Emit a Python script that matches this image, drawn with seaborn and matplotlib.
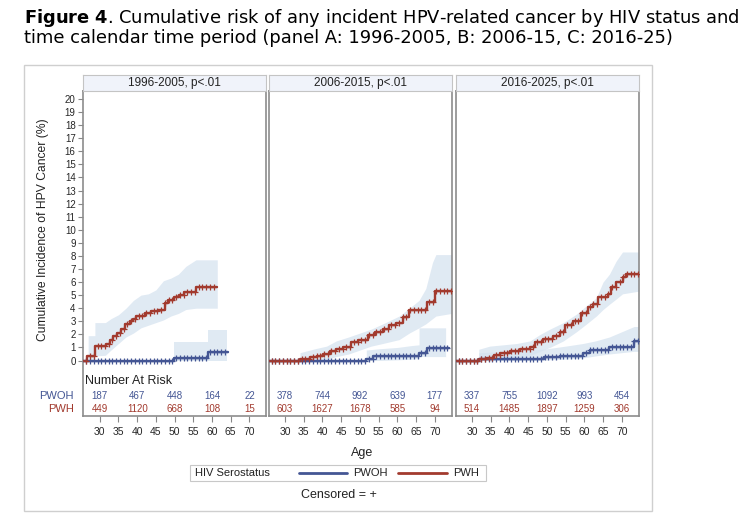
import numpy as np
import pandas as pd
import seaborn as sns
import matplotlib.pyplot as plt
from matplotlib.lines import Line2D
from matplotlib.patches import Rectangle
from matplotlib.transforms import blended_transform_factory

# ---- data ----
periods = ["1996-2005, p<.01", "2006-2015, p<.01", "2016-2025, p<.01"]
groups = ["PWOH", "PWH"]
risk_ages = [30, 40, 50, 60, 70]
x_ticks = [30, 35, 40, 45, 50, 55, 60, 65, 70]

# panel A: 1996-2005
a_pwh_age = [25.6, 26.7, 28.7, 31.6, 32.7, 33.6, 34.5, 35.8, 36.7, 38.0, 38.9, 39.8,
             42.0, 43.7, 45.5, 47.3, 48.1, 49.9, 51.2, 52.6, 55.7, 61.4]
a_pwh_risk = [0.0, 0.33, 1.1, 1.3, 1.6, 1.85, 2.1, 2.4, 2.8, 3.0, 3.2, 3.4,
              3.6, 3.75, 3.9, 4.4, 4.6, 4.83, 5.04, 5.25, 5.6, 5.6]
a_pwoh_age = [25.6, 49.9, 58.8, 64.3]
a_pwoh_risk = [0.0, 0.2, 0.68, 0.68]
a_pwh_band_age = [26.9, 28.7, 28.7, 31.5, 33.0, 35.0, 37.0, 39.0, 41.0, 43.0, 45.0,
                  47.0, 49.0, 51.0, 53.0, 55.7, 61.4]
a_pwh_lo = [0.0, 0.0, 0.35, 0.4, 0.8, 1.3, 1.8, 2.1, 2.5, 2.7, 2.9, 3.1, 3.4, 3.6,
            3.9, 4.0, 4.0]
a_pwh_hi = [1.9, 1.9, 2.9, 2.9, 3.2, 3.5, 4.0, 4.6, 5.0, 5.1, 5.4, 6.1, 6.3, 6.6,
            7.2, 7.7, 7.7]
a_pwoh_band_age = [49.9, 58.8, 58.8, 63.9]
a_pwoh_lo = [0.0, 0.0, 0.0, 0.0]
a_pwoh_hi = [1.4, 1.4, 2.3, 2.3]
a_n_pwoh = [187, 467, 448, 164, 22]
a_n_pwh = [449, 1120, 668, 108, 15]

# panel B: 2006-2015
b_pwh_age = [25.6, 34.0, 36.7, 38.4, 40.2, 42.0, 43.7, 45.5, 47.7, 49.5, 52.1, 53.9,
             56.1, 57.9, 59.7, 61.4, 63.2, 68.0, 70.0, 74.5]
b_pwh_risk = [0.0, 0.1, 0.25, 0.38, 0.5, 0.7, 0.9, 1.07, 1.4, 1.58, 1.98, 2.2,
              2.4, 2.75, 2.9, 3.3, 3.87, 4.5, 5.35, 5.35]
b_pwoh_age = [25.6, 51.7, 53.5, 55.2, 65.8, 68.0, 73.8]
b_pwoh_risk = [0.0, 0.13, 0.33, 0.38, 0.56, 0.97, 0.97]
b_pwh_band_age = [34.0, 38.0, 41.1, 43.7, 47.0, 50.0, 53.0, 56.1, 60.5, 63.2, 65.8,
                  67.6, 69.4, 70.3, 74.5]
b_pwh_lo = [0.0, 0.05, 0.1, 0.3, 0.5, 0.8, 1.1, 1.3, 1.6, 2.1, 2.5, 2.8, 3.2, 3.4, 3.6]
b_pwh_hi = [0.6, 0.9, 1.1, 1.5, 1.8, 2.1, 2.4, 2.8, 3.4, 4.0, 4.6, 5.5, 7.5, 8.1, 8.1]
b_pwoh_band_age = [51.7, 55.2, 60.0, 64.0, 65.8, 65.8, 72.9]
b_pwoh_lo = [0.0, 0.0, 0.05, 0.1, 0.15, 0.3, 0.3]
b_pwoh_hi = [0.8, 0.9, 1.0, 1.15, 1.2, 2.5, 2.5]
b_n_pwoh = [378, 744, 992, 639, 177]
b_n_pwh = [603, 1627, 1678, 585, 94]

# panel C: 2016-2025
c_pwh_age = [25.6, 31.8, 34.0, 35.8, 37.5, 40.2, 42.8, 45.5, 46.8, 49.0, 51.7, 53.4,
             54.8, 57.0, 59.2, 61.0, 62.3, 63.6, 66.3, 67.2, 68.5, 70.2, 71.1, 74.5]
c_pwh_risk = [0.0, 0.1, 0.2, 0.4, 0.6, 0.73, 0.86, 1.0, 1.4, 1.65, 1.9, 2.2,
              2.7, 3.05, 3.6, 4.07, 4.33, 4.83, 5.1, 5.6, 6.0, 6.4, 6.65, 6.65]
c_pwoh_age = [25.6, 31.8, 49.2, 53.4, 59.6, 61.4, 66.7, 73.3, 74.5]
c_pwoh_risk = [0.0, 0.08, 0.25, 0.36, 0.56, 0.8, 1.0, 1.5, 1.5]
c_pwh_band_age = [31.8, 34.7, 41.9, 45.5, 48.2, 50.8, 54.4, 57.9, 60.6, 63.2, 65.0,
                  66.7, 68.5, 70.2, 74.5]
c_pwh_lo = [0.0, 0.15, 0.2, 0.4, 0.7, 1.0, 1.5, 2.2, 2.8, 3.4, 3.9, 4.3, 4.7, 5.1, 5.3]
c_pwh_hi = [0.86, 1.1, 1.3, 1.5, 2.0, 2.4, 2.9, 3.55, 4.2, 4.8, 6.0, 6.6, 7.6, 8.3, 8.3]
c_pwoh_band_age = [31.8, 46.0, 50.0, 55.0, 59.6, 63.0, 66.7, 70.0, 73.3, 74.5]
c_pwoh_lo = [0.0, 0.0, 0.05, 0.1, 0.2, 0.35, 0.5, 0.6, 0.7, 0.7]
c_pwoh_hi = [0.6, 0.8, 0.9, 1.1, 1.3, 1.5, 1.8, 2.2, 2.6, 2.6]
c_n_pwoh = [337, 755, 1092, 993, 454]
c_n_pwh = [514, 1485, 1897, 1259, 306]

# ---- assemble ----
curves = {
    (0, "PWH"): (a_pwh_age, a_pwh_risk), (0, "PWOH"): (a_pwoh_age, a_pwoh_risk),
    (1, "PWH"): (b_pwh_age, b_pwh_risk), (1, "PWOH"): (b_pwoh_age, b_pwoh_risk),
    (2, "PWH"): (c_pwh_age, c_pwh_risk), (2, "PWOH"): (c_pwoh_age, c_pwoh_risk),
}
bands = [
    [(a_pwoh_band_age, a_pwoh_lo, a_pwoh_hi), (a_pwh_band_age, a_pwh_lo, a_pwh_hi)],
    [(b_pwoh_band_age, b_pwoh_lo, b_pwoh_hi), (b_pwh_band_age, b_pwh_lo, b_pwh_hi)],
    [(c_pwoh_band_age, c_pwoh_lo, c_pwoh_hi), (c_pwh_band_age, c_pwh_lo, c_pwh_hi)],
]
at_risk = [(a_n_pwoh, a_n_pwh), (b_n_pwoh, b_n_pwh), (c_n_pwoh, c_n_pwh)]

rows = []
for (p, g), (ages, risk) in curves.items():
    for a, r in zip(ages, risk):
        rows.append({"panel": p, "group": g, "age": a, "risk": r})
df = pd.DataFrame(rows)

palette = {"PWOH": "#445694", "PWH": "#A23A2E"}
band_color = "#d6e3f0"

sns.set_theme(style="white")
plt.rcParams["font.family"] = ["Liberation Sans", "DejaVu Sans"]

W, H = 747, 531
fig = plt.figure(figsize=(W / 100, H / 100), dpi=100)


def fx(x):
    return x / W


def fy(y):
    return 1 - y / H


panel_left = [83.3, 268.6, 455.6]
panel_w = 183.0
top, bottom = 91.0, 415.7
head_top = 74.7
ymin, ymax = -4.22, 20.61
xmin, xmax = 25.6, 74.5

for i, left in enumerate(panel_left):
    ax = fig.add_axes([fx(left), fy(bottom), panel_w / W, (bottom - top) / H])

    for ages, lo, hi in bands[i]:
        ax.fill_between(ages, lo, hi, color=band_color, alpha=0.75, lw=0, zorder=1)

    sub = df[df["panel"] == i]
    sns.lineplot(data=sub, x="age", y="risk", hue="group", hue_order=groups,
                 palette=palette, estimator=None, drawstyle="steps-post",
                 lw=1.7, legend=False, ax=ax, zorder=3)

    # censor marks along each curve
    for g in groups:
        ages, risk = curves[(i, g)]
        cx = np.arange(ages[0] + 0.8, ages[-1], 1.0)
        idx = np.searchsorted(ages, cx, side="right") - 1
        cy = np.asarray(risk)[idx]
        ax.plot(cx, cy, "+", ms=4.5, mew=0.9, color=palette[g], zorder=4)

    # number at risk
    trans = blended_transform_factory(ax.transData, ax.transAxes)
    n_pwoh, n_pwh = at_risk[i]
    for a, n1, n2 in zip(risk_ages, n_pwoh, n_pwh):
        ax.text(a, 0.0607, str(n1), transform=trans, ha="center", va="center",
                fontsize=7, color=palette["PWOH"])
        ax.text(a, 0.0197, str(n2), transform=trans, ha="center", va="center",
                fontsize=7, color=palette["PWH"])

    ax.set_xlim(xmin, xmax)
    ax.set_ylim(ymin, ymax)
    ax.set_xticks(x_ticks)
    ax.set_xticklabels([str(t) for t in x_ticks])
    ax.set_xlabel("")
    ax.set_ylabel("")
    ax.tick_params(axis="x", bottom=True, direction="out", length=4, width=0.8,
                   color="#888888", labelsize=7.5, pad=4)
    if i == 0:
        ax.set_yticks(range(0, 21))
        ax.tick_params(axis="y", left=True, direction="out", length=3.5, width=0.8,
                       color="#888888", labelsize=7, pad=2)
    else:
        ax.set_yticks([])
    for s in ax.spines.values():
        s.set_color("#8c8c8c")
        s.set_linewidth(1.2)

    # panel header strip
    hx = fig.add_axes([fx(left), fy(top), panel_w / W, (top - head_top) / H])
    hx.set_facecolor("#f0f3fa")
    hx.set_xticks([])
    hx.set_yticks([])
    for s in hx.spines.values():
        s.set_color("#c4c4c4")
        s.set_linewidth(0.8)
    hx.text(0.5, 0.5, periods[i], ha="center", va="center", fontsize=8.5,
            color="#222222", transform=hx.transAxes)

# labels and text around the panels
fig.text(fx(43), fy(230), "Cumulative Incidence of HPV Cancer (%)", rotation=90,
         ha="center", va="center", fontsize=8.7, color="#222222")
fig.text(fx(85), fy(381), "Number At Risk", ha="left", va="center", fontsize=9,
         color="#222222")
fig.text(fx(74), fy(396), "PWOH", ha="right", va="center", fontsize=8,
         color=palette["PWOH"])
fig.text(fx(74), fy(409.3), "PWH", ha="right", va="center", fontsize=8,
         color=palette["PWH"])
fig.text(fx(361.7), fy(452.7), "Age", ha="center", va="center", fontsize=9,
         color="#222222")
fig.text(fx(339), fy(495), "Censored = +", ha="center", va="center", fontsize=9,
         color="#222222")

# legend
fig.add_artist(Rectangle((fx(190), fy(481)), (486 - 190) / W, 16 / H,
                         transform=fig.transFigure, facecolor="white",
                         edgecolor="#c8c8c8", lw=0.8))
fig.text(fx(195), fy(473), "HIV Serostatus", ha="left", va="center", fontsize=8,
         color="#222222")
for g, x0, x1, xt in [("PWOH", 299, 347, 353), ("PWH", 398, 447, 453)]:
    fig.add_artist(Line2D([fx(x0), fx(x1)], [fy(473), fy(473)],
                          transform=fig.transFigure, color=palette[g], lw=2))
    fig.text(fx(xt), fy(473), g, ha="left", va="center", fontsize=8,
             color="#222222")

# outer frame
fig.add_artist(Rectangle((fx(24.3), fy(511)), (652 - 24.3) / W, (511 - 65) / H,
                         transform=fig.transFigure, fill=False,
                         edgecolor="#cfcfcf", lw=1))

# title
fig.text(fx(24), fy(22.7), r"$\bf{Figure\ 4}$. Cumulative risk of any incident HPV-related "
         "cancer by HIV status and", ha="left", va="baseline", fontsize=12.9,
         family="DejaVu Sans", color="black")
fig.text(fx(24), fy(42.7), "time calendar time period (panel A: 1996-2005, B: 2006-15, "
         "C: 2016-25)", ha="left", va="baseline", fontsize=12.9,
         family="DejaVu Sans", color="black")

fig.savefig("out.png", dpi=100)
